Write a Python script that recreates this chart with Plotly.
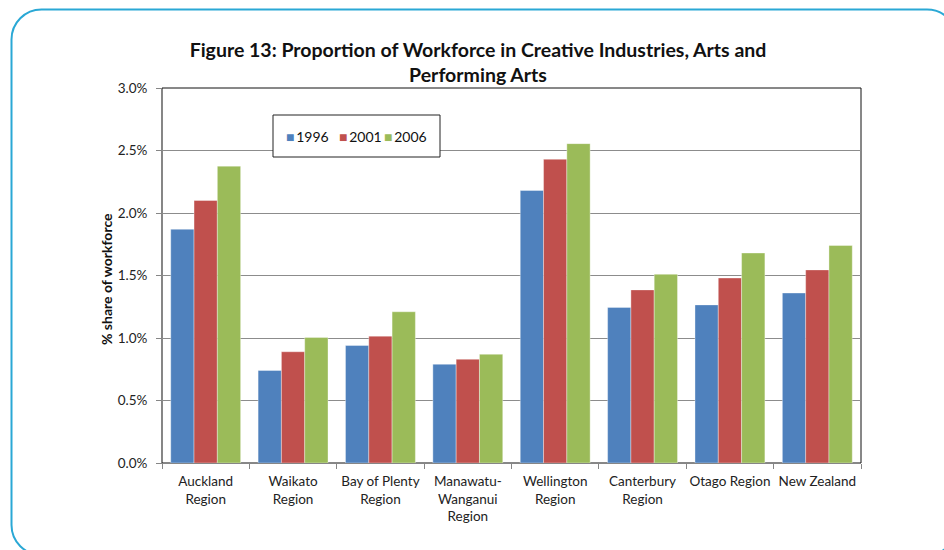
import plotly.graph_objects as go

# Regional share of the workforce employed in creative industries, arts and performing arts (%)
regions = [
    "Auckland<br>Region",
    "Waikato<br>Region",
    "Bay of Plenty<br>Region",
    "Manawatu-<br>Wanganui<br>Region",
    "Wellington<br>Region",
    "Canterbury<br>Region",
    "Otago Region",
    "New Zealand",
]
years = ["1996", "2001", "2006"]
share_1996 = [1.87, 0.74, 0.94, 0.79, 2.18, 1.245, 1.265, 1.36]
share_2001 = [2.10, 0.89, 1.015, 0.83, 2.43, 1.385, 1.48, 1.545]
share_2006 = [2.375, 1.005, 1.21, 0.87, 2.555, 1.51, 1.68, 1.74]
y_ticks = [0.0, 0.5, 1.0, 1.5, 2.0, 2.5, 3.0]

series = [share_1996, share_2001, share_2006]
colors = ["#4F81BD", "#C0504D", "#9BBB59"]

FONT = "Lato"
W, H = 944, 550
L, R, T, B = 162, 83, 88, 87
pw, ph = W - L - R, H - T - B


def px(x):
    return (x - L) / pw


def py(y):
    return (H - B - y) / ph


fig = go.Figure()
for name, vals, col in zip(years, series, colors):
    fig.add_trace(go.Bar(
        x=regions, y=vals, name=name,
        marker=dict(color=col, line=dict(color="rgba(255,255,255,0.6)", width=0.6)),
    ))

# Compact legend entries: coloured square followed by the year
legend_x = [284, 337, 382]
legend_notes = [
    dict(
        text=f"<span style='color:{c}'>■</span>\u2009{y}",
        xref="paper", yref="paper", x=px(lx), y=py(136),
        xanchor="left", yanchor="middle", showarrow=False,
        font=dict(family=FONT, size=14, color="#111"),
    )
    for y, c, lx in zip(years, colors, legend_x)
]

x0, y0, x1, y1, r = 11.5, 9.5, 957, 555, 30
k = 0.5523 * r
panel_path = (
    f"M {px(x0 + r)} {py(y0)} L {px(x1 - r)} {py(y0)} "
    f"C {px(x1 - r + k)} {py(y0)} {px(x1)} {py(y0 + r - k)} {px(x1)} {py(y0 + r)} "
    f"L {px(x1)} {py(y1 - r)} "
    f"C {px(x1)} {py(y1 - r + k)} {px(x1 - r + k)} {py(y1)} {px(x1 - r)} {py(y1)} "
    f"L {px(x0 + r)} {py(y1)} "
    f"C {px(x0 + r - k)} {py(y1)} {px(x0)} {py(y1 - r + k)} {px(x0)} {py(y1 - r)} "
    f"L {px(x0)} {py(y0 + r)} "
    f"C {px(x0)} {py(y0 + r - k)} {px(x0 + r - k)} {py(y0)} {px(x0 + r)} {py(y0)} Z"
)

fig.update_layout(
    width=W, height=H,
    margin=dict(l=L, r=R, t=T, b=B),
    paper_bgcolor="white", plot_bgcolor="white",
    barmode="group", bargap=0.2, bargroupgap=0,
    showlegend=False,
    font=dict(family=FONT, size=13, color="#222"),
    title=dict(
        text="<b>Figure 13: Proportion of Workforce in Creative Industries, Arts and<br>Performing Arts</b>",
        x=478 / W, xanchor="center", y=1 - 57 / H, yanchor="top",
        font=dict(family=FONT, size=19.5, color="#111"),
    ),
    xaxis=dict(
        type="category", tickson="boundaries", tickangle=0, automargin=False,
        ticks="outside", ticklen=5, tickcolor="#868686",
        showline=True, linecolor="#868686", linewidth=1,
        showgrid=False, ticklabelstandoff=6,
        tickfont=dict(family=FONT, size=13.5, color="#222"),
    ),
    yaxis=dict(
        range=[0, 3.0], tickvals=y_ticks, automargin=False,
        ticktext=[f"{v:.1f}%" for v in y_ticks],
        ticks="outside", ticklen=5, tickcolor="#868686",
        showline=True, linecolor="#868686", linewidth=1,
        showgrid=True, gridcolor="#8C8C8C", gridwidth=1,
        zeroline=False, ticklabelstandoff=6,
        tickfont=dict(family=FONT, size=13.5, color="#222"),
    ),
    annotations=[
        dict(
            text="<b>% share of workforce</b>", textangle=-90,
            xref="paper", yref="paper",
            x=px(106), y=py(279),
            xanchor="center", yanchor="middle", showarrow=False,
            font=dict(family=FONT, size=14, color="#111"),
        ),
        *legend_notes,
    ],
    shapes=[
        # plot-area frame
        dict(type="rect", xref="paper", yref="paper", x0=0, x1=1, y0=0, y1=1,
             line=dict(color="#111", width=1), layer="below"),
        # legend box
        dict(type="rect", xref="paper", yref="paper",
             x0=px(273), x1=px(440), y0=py(157), y1=py(115),
             line=dict(color="#222", width=1), fillcolor="white", layer="above"),
        # rounded outer border of the figure panel
        dict(type="path", xref="paper", yref="paper", layer="above",
             path=panel_path, line=dict(color="#2AA8D5", width=2)),
    ],
)

fig.write_html("out.html")
